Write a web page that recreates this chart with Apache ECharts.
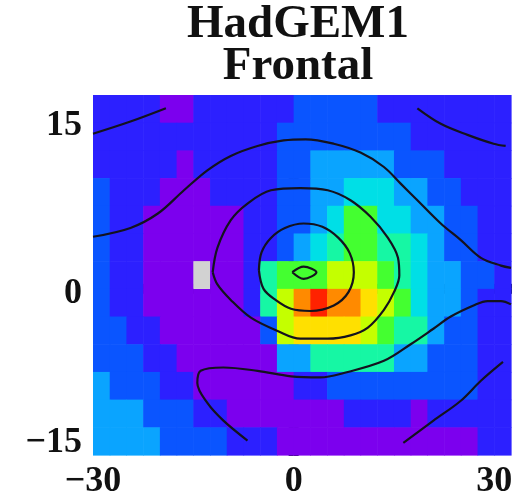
<!DOCTYPE html>
<html>
<head>
<meta charset="utf-8">
<script src="https://cdn.jsdelivr.net/npm/echarts@6/dist/echarts.min.js"></script>
<style>
  html, body { margin: 0; padding: 0; background: #ffffff; }
  #chart { width: 521px; height: 504px; }
</style>
</head>
<body>
<div id="chart"></div>
<script>
// Composite frequency field: 25 x 13 cells, 2.5 degrees each.
// Columns start at x = -30, rows listed from the top (y = 15..17.5) down to the bottom (y = -15..-12.5).
// Values are colour classes 0 (lowest) .. 10 (highest); null marks a cell with no data.
const cellSize = 2.5;
const xFirst = -30;
const yTop = 17.5;
const freq = [
  [1,1,1,1,0,0,1,1,1,1,1,1,2,2,2,2,2,1,1,1,1,1,1,1,1],
  [1,1,1,1,1,1,1,1,1,1,1,2,2,2,2,2,2,2,2,1,1,1,1,1,1],
  [1,1,1,1,1,0,1,1,1,1,1,2,2,3,3,3,3,3,2,2,2,1,1,1,1],
  [2,1,1,1,0,0,0,1,1,1,1,2,2,3,3,4,4,4,3,3,2,2,1,1,1],
  [2,1,1,0,0,0,0,0,0,1,1,2,2,3,4,6,6,4,4,3,3,2,2,1,1],
  [2,1,1,0,0,0,0,0,0,1,1,2,3,4,5,6,6,5,5,4,3,2,2,1,1],
  [2,1,1,0,0,0,null,0,0,1,5,6,6,6,7,7,7,6,5,4,3,3,2,2,1],
  [2,1,1,0,0,0,0,0,0,1,5,7,9,10,9,9,8,7,6,4,3,3,2,1,1],
  [2,2,1,1,0,0,0,0,0,0,2,7,8,8,8,8,7,6,5,5,3,2,2,1,1],
  [2,2,2,1,1,0,0,0,0,0,0,3,3,5,5,5,5,5,3,3,2,2,2,1,1],
  [3,2,2,2,1,1,0,0,0,0,0,0,1,1,2,2,2,2,2,2,2,2,2,1,1],
  [3,3,3,2,2,2,1,1,0,0,0,0,0,0,0,1,1,1,1,0,1,1,1,1,1],
  [3,3,3,3,2,2,2,2,1,1,1,0,0,0,0,0,0,0,0,0,0,0,0,1,1]
];

// Colour for each class
const classColors = ['#7c00ee', '#2c20ff', '#0a55ff', '#0aa4ff', '#00dfe6',
                     '#16f7a4', '#44ff30', '#c4ff00', '#ffe000', '#ff8a00', '#ff2200'];
const missingColor = '#d2d2d2';

// Contour lines, [x, y] in degrees
const contourTopLeft = [[-30,14.0],[-24.4,15.1],[-19.1,16.3]];
const contourOuter = [[-30,4.7],[-24.4,5.5],[-20.3,6.8],[-16.4,8.9],[-12.9,10.7],[-9.4,12.0],[-5.4,12.9],
  [-1.5,13.4],[1.8,13.5],[6.0,13.1],[10.0,12.3],[13.5,11.0],[16.0,9.5],[18.5,8.0],[22.0,5.9],
  [25.0,4.4],[28.0,2.8],[31.0,2.1],[32.5,1.9]];
const contourMiddle = [[-12.1,1.5],[-11.4,3.7],[-9.4,6.2],[-6.9,7.7],[-3.4,8.9],[1.0,9.1],[5.1,8.9],
  [8.5,8.0],[11.5,6.5],[14.1,4.6],[15.6,2.8],[15.8,1.2],[15.0,-0.3],[13.5,-1.9],[11.1,-3.5],
  [8.5,-4.2],[5.1,-4.5],[1.0,-4.5],[-2.4,-3.8],[-6.4,-2.6],[-9.4,-1.0],[-11.4,0.4],[-12.1,1.5]];
const contourInner = [[-5.2,1.7],[-4.8,3.3],[-3.4,4.6],[-1.3,5.5],[1.5,5.9],[4.3,5.6],[6.7,4.6],
  [8.4,3.2],[9.0,1.5],[8.2,-0.3],[6.0,-1.5],[2.5,-2.0],[-0.4,-1.8],[-2.7,-1.0],[-4.5,0.0],[-5.2,1.7]];
const contourCore = [[-0.2,1.5],[1.5,2.0],[3.4,1.5],[1.5,0.9],[-0.2,1.5]];
const contourLower = [[-6.9,-13.7],[-10.5,-11.9],[-12.9,-10.3],[-14.4,-8.5],[-13.9,-7.4],[-10.5,-7.1],
  [-5.4,-7.4],[-0.4,-7.9],[4.0,-8.0],[7.5,-7.6],[13.5,-6.5],[17.5,-5.0],[20.9,-3.6],[23.5,-2.5],
  [26.9,-1.5],[29.0,-1.1],[31.0,-1.1],[32.5,-1.4]];
const contourLowerRight = [[16.4,-13.9],[20.9,-11.9],[25.0,-10.1],[28.0,-8.3],[31.3,-6.6]];
const contourTopRight = [[18.5,16.3],[22.0,14.9],[26.0,13.9],[29.9,13.1],[31.7,12.9]];

// Axis ranges and labelled ticks
const xRange = [-30, 32.5];
const yRange = [-15, 17.5];
const xLabelValues = [-30, 0, 30];
const yLabelValues = [-15, 0, 15];

// Build the cell table: [x left, y bottom, class]
const cells = [];
const missing = [];
freq.forEach(function (row, r) {
  row.forEach(function (v, c) {
    const x0 = xFirst + c * cellSize;
    const y0 = yTop - (r + 1) * cellSize;
    if (v === null) missing.push([x0, y0]);
    else cells.push([x0, y0, v]);
  });
});

function cellRect(api, fill, pad) {
  const x0 = api.value(0), y0 = api.value(1);
  const a = api.coord([x0, y0 + cellSize]);
  const b = api.coord([x0 + cellSize, y0]);
  return {
    type: 'rect',
    shape: { x: a[0], y: a[1], width: b[0] - a[0] + pad, height: b[1] - a[1] + pad },
    style: { fill: fill }
  };
}

const fmtNum = function (v) { return v < 0 ? '\u2212' + Math.abs(v) : String(v); };
const labelFont = { fontFamily: 'Liberation Serif', fontWeight: 'bold', fontSize: 36, color: '#111' };

const tickStyle = { show: true, inside: true, length: 5, lineStyle: { color: '#1a1a3a', width: 1 } };

function contourSeries(data) {
  return {
    type: 'line', data: data, xAxisIndex: 0, yAxisIndex: 0,
    showSymbol: false, symbol: 'none', smooth: 0.35, silent: true, z: 5,
    lineStyle: { color: '#14121e', width: 2.2 }
  };
}

const chart = echarts.init(document.getElementById('chart'), null, { renderer: 'canvas' });
chart.setOption({
  backgroundColor: '#ffffff',
  animation: false,
  title: {
    text: 'HadGEM1\nFrontal',
    left: 298, top: 4, padding: 0,
    textAlign: 'center',
    textStyle: { fontFamily: 'Liberation Serif', fontWeight: 'bold', fontSize: 47, lineHeight: 42, color: '#111' }
  },
  grid: { left: 93, right: 10, top: 95, bottom: 49, containLabel: false },
  xAxis: [{
    type: 'value', min: xRange[0], max: xRange[1], interval: cellSize,
    axisLine: { show: false }, splitLine: { show: false }, axisTick: tickStyle,
    axisLabel: Object.assign({
      margin: 9,
      formatter: function (v) { return xLabelValues.indexOf(v) >= 0 ? fmtNum(v) : ''; }
    }, labelFont)
  }, {
    type: 'value', position: 'top', min: xRange[0], max: xRange[1], interval: cellSize,
    axisLine: { show: false }, splitLine: { show: false }, axisTick: tickStyle, axisLabel: { show: false }
  }],
  yAxis: [{
    type: 'value', min: yRange[0], max: yRange[1], interval: cellSize,
    axisLine: { show: false }, splitLine: { show: false }, axisTick: tickStyle,
    axisLabel: Object.assign({
      margin: 11,
      formatter: function (v) {
        if (yLabelValues.indexOf(v) < 0) return '';
        const key = v > 0 ? 'hi' : (v === 0 ? 'mid' : 'lo');
        return '{' + key + '|' + fmtNum(v) + '}';
      },
      rich: {
        hi: Object.assign({ padding: [6, 0, 0, 0] }, labelFont),
        mid: Object.assign({ padding: [10, 0, 0, 0] }, labelFont),
        lo: Object.assign({ padding: [0, 0, 24, 0] }, labelFont)
      }
    }, labelFont)
  }, {
    type: 'value', position: 'right', min: yRange[0], max: yRange[1], interval: cellSize,
    axisLine: { show: false }, splitLine: { show: false }, axisTick: tickStyle, axisLabel: { show: false }
  }],
  visualMap: {
    type: 'piecewise', show: false, dimension: 2, seriesIndex: 0,
    pieces: classColors.map(function (c, i) { return { value: i, color: c }; })
  },
  series: [
    { type: 'custom', renderItem: function (params, api) { return cellRect(api, api.visual('color'), 0.6); },
      data: cells, encode: { x: 0, y: 1 }, z: 1, silent: true },
    { type: 'custom', renderItem: function (params, api) { return cellRect(api, missingColor, 0); },
      data: missing, encode: { x: 0, y: 1 }, z: 2, silent: true },
    contourSeries(contourTopLeft),
    contourSeries(contourOuter),
    contourSeries(contourMiddle),
    contourSeries(contourInner),
    contourSeries(contourCore),
    contourSeries(contourLower),
    contourSeries(contourLowerRight),
    contourSeries(contourTopRight)
  ]
});
</script>
</body>
</html>
